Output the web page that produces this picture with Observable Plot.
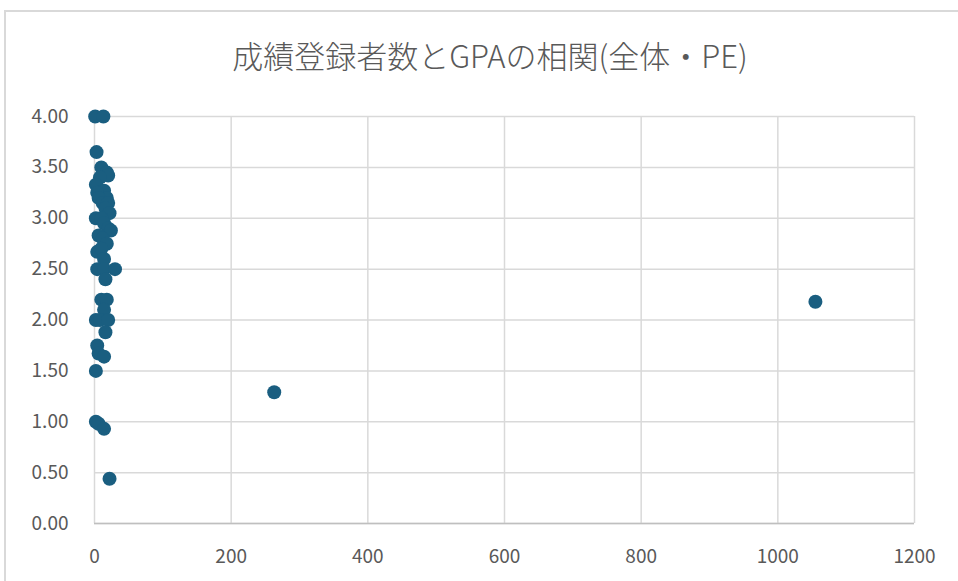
<!DOCTYPE html>
<html>
<head>
<meta charset="utf-8">
<script src="https://cdn.jsdelivr.net/npm/d3@7"></script>
<script src="https://cdn.jsdelivr.net/npm/@observablehq/plot@0.6"></script>
<style>
  body { margin: 0; background: #fff; }
  #wrap { position: relative; width: 958px; height: 581px; overflow: hidden; }
  #frame { position: absolute; left: 4px; top: 10px; width: 960px; height: 600px;
           border-top: 2px solid #d9d9d9; border-left: 2px solid #d9d9d9; box-sizing: border-box; }
  #title { position: absolute; left: 0; top: 32px; width: 980px; text-align: center;
           font-family: "Liberation Sans Narrow", "Noto Sans CJK JP", sans-serif; font-size: 31px;
           font-weight: 300; color: #595959; }
  #chart { position: absolute; left: 0; top: 0; }
</style>
</head>
<body>
<div id="wrap">
  <div id="frame"></div>
  <div id="title"></div>
  <div id="chart"></div>
</div>
<script>
const titleText = "成績登録者数とGPAの相関(全体・PE)";
// 成績登録者数 (number of registered students)
const students = [1, 13, 3, 10, 18, 20, 8, 2, 14, 4, 18, 6, 12, 20, 16, 22, 2, 10, 14, 20, 24, 6, 12, 18, 4, 10, 14, 4, 14, 30, 16, 10, 18, 14, 2, 8, 20, 16, 4, 6, 14, 2, 2, 6, 14, 22, 263, 1055];
// GPA
const gpa = [4.00, 4.00, 3.65, 3.50, 3.45, 3.42, 3.40, 3.33, 3.27, 3.25, 3.20, 3.20, 3.15, 3.15, 3.10, 3.05, 3.00, 3.00, 2.95, 2.90, 2.88, 2.83, 2.80, 2.75, 2.67, 2.70, 2.60, 2.50, 2.50, 2.50, 2.40, 2.20, 2.20, 2.10, 2.00, 2.00, 2.00, 1.88, 1.75, 1.67, 1.64, 1.50, 1.00, 0.98, 0.93, 0.44, 1.29, 2.18];
const xTicks = [0, 200, 400, 600, 800, 1000, 1200];
const yTicks = [0, 0.5, 1, 1.5, 2, 2.5, 3, 3.5, 4];

document.getElementById("title").textContent = titleText;
const data = students.map((s, i) => ({x: s, y: gpa[i]}));
const font = '"Liberation Sans Narrow", "Noto Sans CJK JP", sans-serif';

const chart = Plot.plot({
  width: 958,
  height: 581,
  marginLeft: 94,
  marginRight: 44,
  marginTop: 116,
  marginBottom: 58,
  style: {fontFamily: font, fontSize: "19px", color: "#595959", background: "transparent", overflow: "visible"},
  x: {domain: [0, 1200], ticks: xTicks, label: null, tickFormat: d3.format("d")},
  y: {domain: [0, 4], ticks: yTicks, label: null, tickFormat: d3.format(".2f")},
  marks: [
    Plot.gridX(xTicks, {stroke: "#d9d9d9", strokeOpacity: 1, strokeWidth: 1.5}),
    Plot.gridY(yTicks, {stroke: "#d9d9d9", strokeOpacity: 1, strokeWidth: 1.5}),
    Plot.ruleY([0], {stroke: "#bfbfbf", strokeWidth: 1.5}),
    Plot.axisX(xTicks, {tickSize: 0, tickPadding: 26, fill: "#595959", fontSize: 19, tickFormat: d3.format("d")}),
    Plot.axisY(yTicks, {tickSize: 0, tickPadding: 26, fill: "#595959", fontSize: 19, tickFormat: d3.format(".2f")}),
    Plot.dot(data, {x: "x", y: "y", r: 7, fill: "#1a5e80", stroke: null})
  ]
});
document.getElementById("chart").appendChild(chart);
</script>
</body>
</html>
